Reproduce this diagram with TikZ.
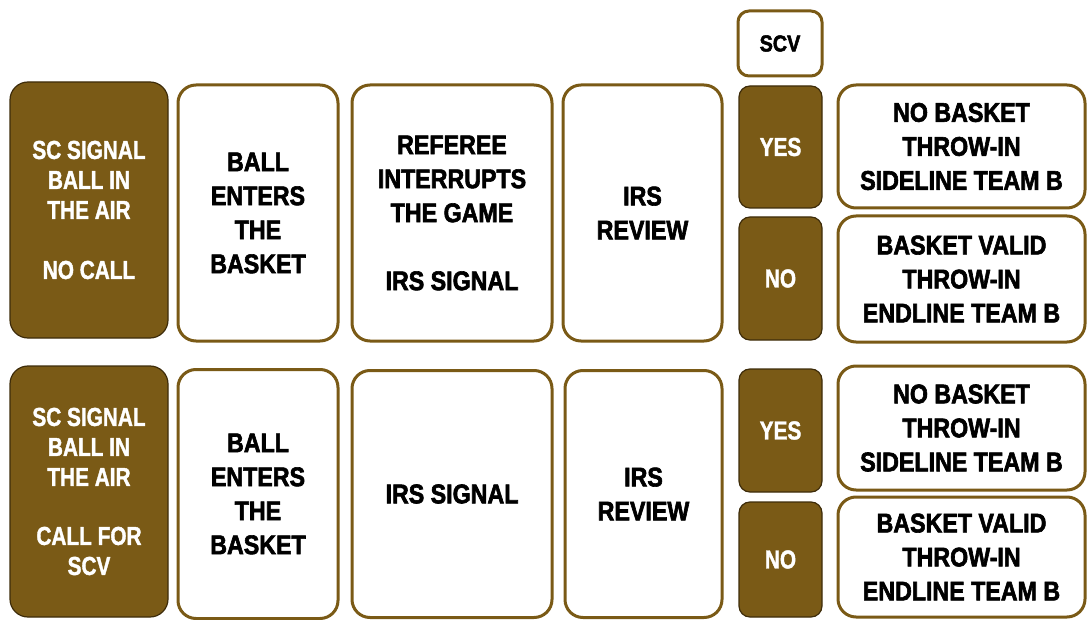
\documentclass[tikz,border=0pt]{standalone}
\usepackage{fontspec}
\newfontfamily\condb{Liberation Sans}[FakeStretch=0.86,FakeBold=2.2]
\newfontfamily\condw{Liberation Sans}[FakeStretch=0.80,FakeBold=1.4]
\definecolor{brn}{RGB}{122,90,22}
\definecolor{brnline}{RGB}{62,44,10}
\tikzset{
  box/.style={rectangle, rounded corners=18pt, inner sep=0pt, align=center},
  darkbox/.style={box, fill=brn, draw=brnline, line width=1.2pt, text=white,
    font=\condw\bfseries\fontsize{26}{30}\selectfont},
  lightbox/.style={box, fill=white, draw=brn, line width=3pt, text=black,
    font=\condb\bfseries\fontsize{27}{34}\selectfont},
  smallbox/.style={rounded corners=11pt},
  sz/.style 2 args={minimum width=#1pt, minimum height=#2pt},
}
\begin{document}
\begin{tikzpicture}[x=1pt,y=-1pt]
\useasboundingbox (0,0) rectangle (1087,620);
% row 1
\node[darkbox, sz={158}{256}] (a1) at (89,210) {SC SIGNAL\\BALL IN\\THE AIR\\[30pt]NO CALL};
\node[lightbox, sz={160}{256}] (b1) at (258,213) {BALL\\ENTERS\\THE\\BASKET};
\node[lightbox, sz={200}{256}] (c1) at (452,213) {REFEREE\\INTERRUPTS\\THE GAME\\[34pt]IRS SIGNAL};
\node[lightbox, sz={159}{256}] (d1) at (642.5,213) {IRS\\REVIEW};
\node[lightbox, smallbox, sz={84}{65}] (scv) at (780,43.5) {\fontsize{23}{26}\selectfont SCV};
\node[darkbox, smallbox, sz={83}{122}] (yes1) at (780.5,147) {YES};
\node[darkbox, smallbox, sz={83}{123}] (no1) at (780.5,278.5) {NO};
\node[lightbox, sz={247}{123}] (r1a) at (961.5,146.5) {NO BASKET\\THROW-IN\\SIDELINE TEAM B};
\node[lightbox, sz={247}{126}] (r1b) at (961.5,279) {BASKET VALID\\THROW-IN\\ENDLINE TEAM B};
% row 2
\node[darkbox, sz={158}{251}] (a2) at (89,491.5) {SC SIGNAL\\BALL IN\\THE AIR\\[29pt]CALL FOR\\SCV};
\node[lightbox, sz={160}{249}] (b2) at (258,494) {BALL\\ENTERS\\THE\\BASKET};
\node[lightbox, sz={200}{247}] (c2) at (452,494) {IRS SIGNAL};
\node[lightbox, sz={157}{247}] (d2) at (643.5,494) {IRS\\REVIEW};
\node[darkbox, smallbox, sz={83}{123}] (yes2) at (780.5,430.5) {YES};
\node[darkbox, smallbox, sz={83}{115}] (no2) at (780.5,559.5) {NO};
\node[lightbox, sz={247}{124}] (r2a) at (961.5,428) {NO BASKET\\THROW-IN\\SIDELINE TEAM B};
\node[lightbox, sz={247}{120}] (r2b) at (961.5,557) {BASKET VALID\\THROW-IN\\ENDLINE TEAM B};
\end{tikzpicture}
\end{document}
